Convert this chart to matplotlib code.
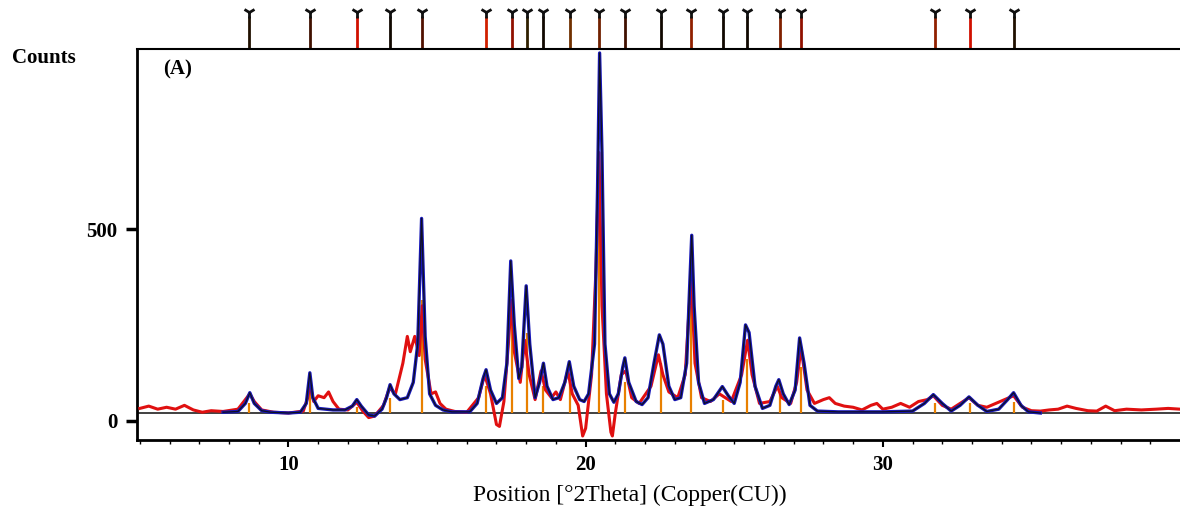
import numpy as np
import matplotlib
matplotlib.use("Agg")
import matplotlib.pyplot as plt

# reference peak positions (2theta) and stick heights
ref_pos = [8.66, 10.74, 12.32, 13.42, 14.50, 16.64, 17.52, 18.02, 18.56, 19.46,
           20.44, 21.31, 22.52, 23.56, 24.63, 25.44, 26.54, 27.25, 31.74, 32.92, 34.43]
ref_height = [45, 80, 35, 60, 315, 90, 280, 230, 90, 100,
              620, 100, 150, 300, 55, 160, 70, 140, 45, 45, 50]
ref_color = ['#201000', '#401000', '#d01000', '#100800', '#501000', '#d02000', '#901000',
             '#302000', '#100800', '#703000', '#702000', '#401000', '#100800', '#902000',
             '#100800', '#100800', '#802000', '#901000', '#902000', '#d01000', '#201000']

# calculated profile (blue)
calc_x = [7.8, 8.3, 8.55, 8.7, 8.85, 9.1, 9.4, 10.0, 10.4, 10.6, 10.72, 10.82, 11.0, 11.5,
          11.9, 12.15, 12.3, 12.45, 12.7, 12.9, 13.15, 13.3, 13.42, 13.55, 13.75, 14.0, 14.2,
          14.35, 14.48, 14.6, 14.75, 14.95, 15.2, 15.5, 16.1, 16.35, 16.55, 16.65, 16.8, 17.0,
          17.2, 17.35, 17.48, 17.6, 17.75, 17.85, 18.0, 18.12, 18.3, 18.45, 18.58, 18.7, 18.9,
          19.1, 19.3, 19.45, 19.6, 19.8, 19.95, 20.1, 20.3, 20.4, 20.47, 20.55, 20.65, 20.8,
          20.95, 21.1, 21.25, 21.32, 21.45, 21.7, 21.9, 22.1, 22.3, 22.48, 22.6, 22.8, 23.0,
          23.2, 23.4, 23.5, 23.57, 23.65, 23.8, 24.0, 24.3, 24.6, 24.8, 25.0, 25.2, 25.38,
          25.5, 25.7, 25.95, 26.2, 26.4, 26.5, 26.65, 26.85, 27.05, 27.2, 27.35, 27.55, 27.8,
          28.5, 30.0, 31.0, 31.4, 31.7, 32.0, 32.3, 32.6, 32.9, 33.2, 33.5, 33.9, 34.2, 34.4,
          34.65, 34.9, 35.3]
calc_y = [22, 24, 45, 73, 45, 26, 22, 20, 22, 45, 125, 60, 32, 28,
          28, 38, 55, 38, 15, 12, 30, 60, 94, 70, 55, 60, 100,
          200, 528, 220, 70, 40, 28, 23, 23, 45, 110, 133, 80, 45,
          60, 150, 417, 250, 110, 140, 352, 200, 60, 100, 150, 90, 55,
          60, 100, 154, 90, 55, 50, 70, 200, 600, 960, 700, 200, 70,
          48, 70, 140, 164, 100, 50, 42, 60, 150, 224, 200, 90, 55,
          60, 150, 350, 484, 300, 100, 45, 55, 89, 65, 45, 100, 250,
          230, 90, 32, 40, 90, 107, 70, 42, 80, 216, 150, 40, 25,
          23, 23, 25, 45, 68, 45, 25, 40, 62, 40, 24, 30, 55, 73,
          40, 23, 20]

# observed profile (red)
obs_x = [5.0, 5.3, 5.6, 5.9, 6.2, 6.5, 6.8, 7.1, 7.4, 7.8, 8.3, 8.6, 8.7, 8.85, 9.1, 9.5,
         10.0, 10.5, 10.65, 10.72, 10.85, 11.0, 11.2, 11.35, 11.5, 11.7, 12.0, 12.3, 12.5,
         12.7, 12.9, 13.2, 13.4, 13.6, 13.85, 14.0, 14.1, 14.25, 14.4, 14.5, 14.6, 14.8,
         14.95, 15.1, 15.3, 15.6, 16.0, 16.4, 16.6, 16.8, 17.0, 17.1, 17.25, 17.4, 17.5,
         17.6, 17.8, 17.95, 18.1, 18.3, 18.5, 18.65, 18.85, 19.0, 19.15, 19.4, 19.55, 19.75,
         19.9, 20.0, 20.2, 20.35, 20.45, 20.55, 20.7, 20.85, 20.9, 21.0, 21.2, 21.35, 21.55,
         21.8, 22.2, 22.45, 22.6, 22.8, 23.1, 23.35, 23.55, 23.68, 23.9, 24.2, 24.5, 24.7,
         24.9, 25.25, 25.45, 25.6, 25.85, 26.2, 26.45, 26.6, 26.9, 27.1, 27.25, 27.45, 27.7,
         28.0, 28.2, 28.4, 28.7, 29.0, 29.3, 29.6, 29.8, 30.0, 30.3, 30.6, 30.9, 31.2, 31.5,
         31.7, 32.0, 32.3, 32.6, 32.9, 33.2, 33.5, 33.8, 34.1, 34.4, 34.7, 35.0, 35.3, 35.6,
         35.9, 36.2, 36.5, 36.9, 37.2, 37.5, 37.8, 38.2, 38.7, 39.2, 39.6, 40.0]
obs_y = [32, 38, 30, 35, 30, 40, 28, 22, 26, 24, 30, 60, 70, 50, 28, 22,
         20, 25, 60, 95, 50, 65, 60, 75, 50, 30, 28, 48, 25,
         8, 12, 40, 85, 70, 150, 220, 180, 220, 170, 300, 160, 70,
         75, 45, 30, 24, 22, 60, 120, 70, -10, -15, 50, 200, 315,
         180, 100, 210, 120, 55, 130, 80, 60, 75, 55, 130, 70, 40,
         -40, -20, 120, 400, 700, 300, 70, -30, -40, 20, 120, 130, 60,
         45, 90, 172, 120, 75, 60, 120, 380, 150, 60, 50, 70, 60,
         50, 120, 210, 120, 45, 50, 90, 60, 45, 100, 190, 80, 45,
         55, 60, 45, 38, 35, 28, 40, 45, 30, 35, 45, 35, 50, 55,
         65, 40, 30, 45, 60, 40, 35, 45, 55, 65, 35, 26, 25, 28,
         30, 38, 32, 26, 25, 38, 26, 30, 28, 30, 32, 30]

serif = 'Liberation Serif'
fig = plt.figure(figsize=(11.8, 5.12), dpi=100)
ax = fig.add_axes([0.116, 0.141, 0.884, 0.763])

ax.axhline(20, color='#202020', lw=1.2, zorder=1)
ax.vlines(ref_pos, 20, ref_height, color='#e88000', lw=1.6, zorder=2)
ax.plot(obs_x, obs_y, color='#e01010', lw=2.2, zorder=3)
ax.plot(calc_x, calc_y, color='#1818b8', lw=2.4, zorder=4)
ax.plot(calc_x, calc_y, color='#101020', lw=0.9, zorder=5)

# reference markers above the frame
tr = ax.get_xaxis_transform()
ax.vlines(ref_pos, 1.0, 1.085, colors=ref_color, lw=2.0, transform=tr, clip_on=False)
ax.plot(ref_pos, [1.095] * len(ref_pos), ls='none', marker='1', ms=9, mew=2,
        color='#101010', transform=tr, clip_on=False)

ax.set_xlim(4.9, 40)
ax.set_ylim(-50, 970)
ax.set_xticks([10, 20, 30])
ax.set_xticks(np.arange(5, 40, 1), minor=True)
ax.set_yticks([0, 500])
ax.tick_params(axis='x', which='major', length=5, width=1.5, labelsize=15, pad=6)
ax.tick_params(axis='x', which='minor', length=3, width=1)
ax.tick_params(axis='y', length=8, width=2.5, labelsize=15, pad=6)
for lab in ax.get_xticklabels() + ax.get_yticklabels():
    lab.set_family(serif)
    lab.set_fontweight('bold')
for s in ['left', 'bottom', 'top']:
    ax.spines[s].set_linewidth(2)
ax.spines['top'].set_linewidth(1.5)
ax.spines['right'].set_visible(False)

ax.text(0.025, 0.935, '(A)', transform=ax.transAxes, family=serif, fontsize=15,
        fontweight='bold')
fig.text(12 / 1180, 1 - 58 / 512, 'Counts', family=serif, fontsize=15, fontweight='bold',
         va='center')
fig.text(630 / 1180, 1 - 495 / 512, 'Position [°2Theta] (Copper(CU))', family=serif,
         fontsize=17, ha='center', va='center')

fig.savefig('out.png', dpi=100)
